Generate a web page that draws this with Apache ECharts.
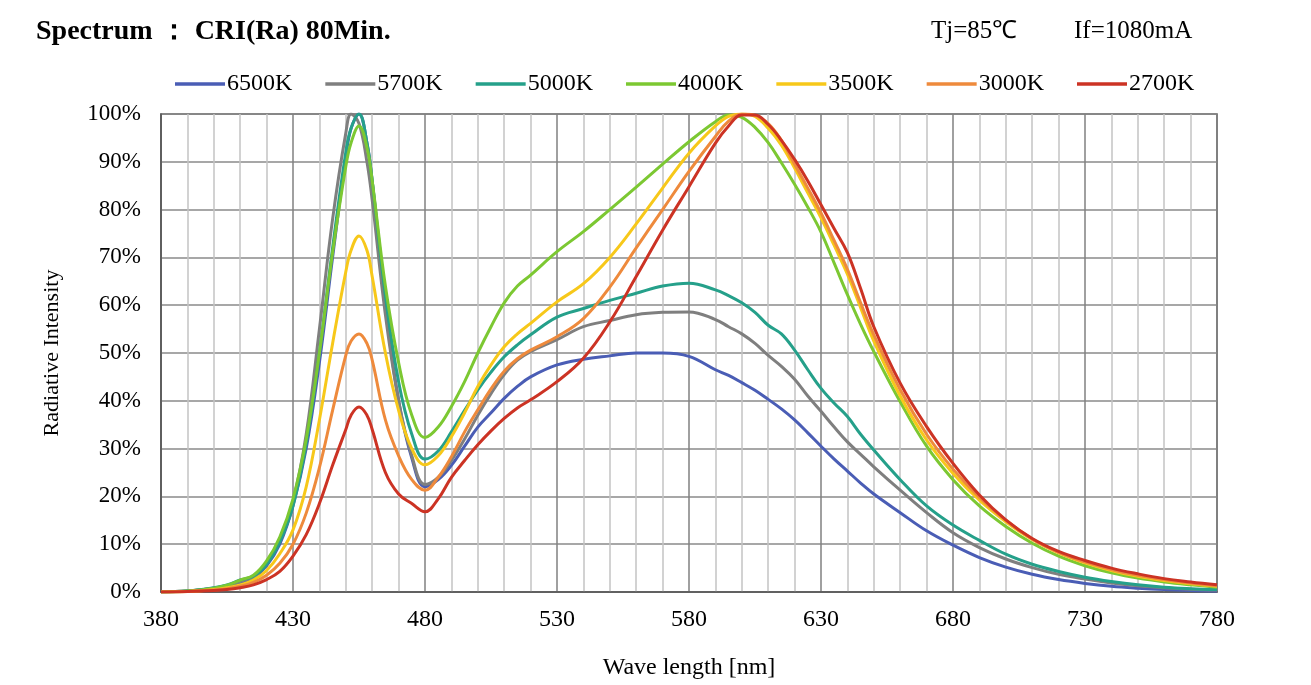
<!DOCTYPE html>
<html><head><meta charset="utf-8">
<script src="https://cdn.jsdelivr.net/npm/echarts@6/dist/echarts.min.js"></script>
<style>html,body{margin:0;padding:0;background:#fff}#c{width:1311px;height:685px}</style>
</head><body><div id="c"></div>
<script>
const wavelengths = [380,390,400,405,410,415,420,425,430,435,440,445,450,452,455,458,460,465,470,475,480,485,490,495,500,505,510,515,520,530,540,550,560,570,580,590,595,600,605,610,615,620,625,630,635,640,645,650,660,670,680,690,700,710,720,730,740,750,760,770,780];
const seriesNames = ['6500K','5700K','5000K','4000K','3500K','3000K','2700K'];
const cct6500 = [0,0.2,0.8,1.2,2.0,3.0,5.5,10,18,30,48,70,91,97,100,94,86,60,40,28,22,23.5,26.5,30.5,34.5,37.5,40.5,43,45,47.5,48.7,49.4,50,50,49.3,46.5,45.3,43.8,42.2,40.3,38.3,36,33.3,30.5,27.8,25.3,22.8,20.5,16.6,12.8,9.8,7.2,5.2,3.7,2.6,1.8,1.2,0.8,0.5,0.3,0.2];
const cct5700 = [0,0.2,0.8,1.3,2.2,3.2,6,11,19,33,55,78,96,100,98,90,82,58,40,28.5,22.5,24,27.5,32,37,41.5,45.5,48.5,50.3,52.8,55.5,56.8,58,58.5,58.6,57,55.5,54,52,49.5,47.2,44.5,41,37.8,34.5,31.4,28.8,26.2,21.3,16.6,12.4,9.3,6.9,5.1,3.7,2.7,1.9,1.3,0.9,0.6,0.4];
const cct5000 = [0,0.2,0.9,1.5,2.5,3.3,5.8,10.5,18,31,50,72,92,97,100,94,86,62,44,33,27.8,29.5,33.5,38,42.3,46,49.2,51.7,53.8,57.5,59.3,61,62.5,64,64.6,63.2,62,60.5,58.5,55.8,54,50.6,46.5,42.6,39.5,36.7,33,29.7,23.5,18,14,10.8,7.9,5.8,4.3,3.1,2.2,1.5,1.0,0.7,0.5];
const cct4000 = [0,0.2,0.8,1.4,2.5,3.5,6.5,11.5,19.5,32,50,71,89,94,97.5,93,86,64,48,37,32.3,34.5,38.8,44,50,55.5,60.5,64,66.3,71.2,75.4,80,84.7,89.5,94.2,98.4,99.8,99.3,97.2,94,89.8,85.3,80.5,75.3,68.8,62.2,56,50.3,39.8,30.5,23.5,18,13.7,10.2,7.5,5.5,4,2.9,2.1,1.5,1.0];
const cct3500 = [0,0.1,0.5,0.9,1.5,2.5,4.5,8,13,22,36,52,67,71.5,74.5,71.5,66,50,38,30,26.6,28.5,32.5,37.5,43,47.5,51.3,54,56.2,60.7,64.5,70,77,84.5,91.8,97.5,99.5,100,99.5,97,93.5,88.7,83.5,78.3,72.5,66.5,59.5,52.5,41,31.8,24.8,19.2,14.7,11,8.2,6.1,4.5,3.3,2.4,1.7,1.2];
const cct3000 = [0,0.1,0.4,0.7,1.2,2,3.5,6,10,16.5,26,38,49.5,52.5,54,52,48.5,36,28.5,23.5,21.3,24,28.3,33.5,38.1,42.5,46.2,48.8,50.6,53.4,57.2,63.8,72,80,88,95.3,98.5,100,99.7,98,94.5,89.5,84.5,79.3,73.5,67.5,60.5,53.8,42.3,33,25.7,19.8,15,11.1,8.3,6.3,4.7,3.5,2.6,1.9,1.3];
const cct2700 = [0,0.1,0.3,0.5,0.9,1.5,2.6,4.3,7.5,12,18.5,26.5,34,37,38.7,37,34,25,20.5,18.5,16.8,19.5,24,27.5,30.8,33.7,36.3,38.5,40.2,44,48.9,56.5,66,75.7,84.8,93.9,97.5,99.8,99.8,97.8,94.5,90.5,86,81,76,71,63.5,55.5,43.7,34.6,26.9,20.3,15.1,11.2,8.5,6.6,5,3.8,2.8,2.1,1.5];
const allValues = [cct6500,cct5700,cct5000,cct4000,cct3500,cct3000,cct2700];
const colors = ['#4a5db5','#7f7f7f','#25a08a','#7cc832','#f7c81a','#ee8a3c','#cc3324'];

const chart = echarts.init(document.getElementById('c'));
const serif = '"Liberation Serif", "Times New Roman", serif';
chart.setOption({
  animation:false,
  backgroundColor:'#ffffff',
  title:[
    {text:'Spectrum ： CRI(Ra) 80Min.', left:31, top:13, textStyle:{fontFamily:serif,fontSize:28,fontWeight:'bold',color:'#000'}},
    {text:'Tj=85℃', left:926, top:14, textStyle:{fontFamily:serif,fontSize:25,fontWeight:'normal',color:'#000'}},
    {text:'If=1080mA', left:1069, top:14, textStyle:{fontFamily:serif,fontSize:25,fontWeight:'normal',color:'#000'}}
  ],
  legend:{
    data:seriesNames, left:170, top:67, icon:'rect', itemWidth:50, itemHeight:3.5, itemGap:33,
    textStyle:{fontFamily:serif,fontSize:24,color:'#000',padding:[0,0,0,-3]}
  },
  grid:{left:161,right:94,top:114,bottom:93,show:true,borderColor:'#555',borderWidth:1.5,containLabel:false},
  xAxis:{
    type:'value', min:380, max:780, interval:50,
    name:'Wave length [nm]', nameLocation:'middle', nameGap:64,
    nameTextStyle:{fontFamily:serif,fontSize:24,color:'#000'},
    axisLine:{show:true,lineStyle:{color:'#555',width:1.5}},
    axisTick:{show:false},
    axisLabel:{fontFamily:serif,fontSize:24,color:'#000',margin:16},
    splitLine:{show:true,lineStyle:{color:'#808080',width:1.5}},
    minorTick:{show:false,splitNumber:5},
    minorSplitLine:{show:true,lineStyle:{color:'#c4c4c4',width:1.5}}
  },
  yAxis:{
    type:'value', min:0, max:100, interval:10,
    name:'Radiative Intensity', nameLocation:'middle', nameGap:98, nameRotate:90,
    nameTextStyle:{fontFamily:serif,fontSize:22,color:'#000'},
    axisLine:{show:true,lineStyle:{color:'#555',width:1.5}},
    axisTick:{show:false},
    axisLabel:{fontFamily:serif,fontSize:23,color:'#000',margin:20,formatter:'{value}%'},
    splitLine:{show:true,lineStyle:{color:'#8a8a8a',width:1.5}}
  },
  series:seriesNames.map((n,i)=>({
    name:n, type:'line', smooth:0.4, symbol:'none', showSymbol:false,
    lineStyle:{width:3,color:colors[i]}, itemStyle:{color:colors[i]},
    data:wavelengths.map((w,j)=>[w,allValues[i][j]])
  }))
});
</script></body></html>
